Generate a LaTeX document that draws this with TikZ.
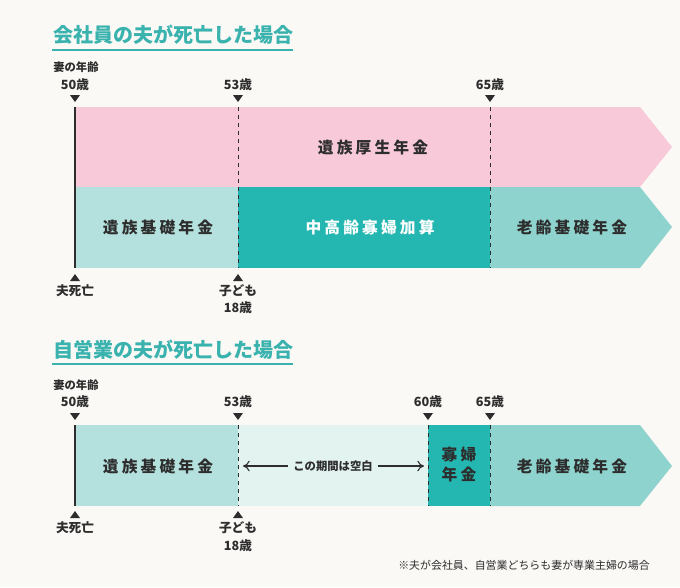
\documentclass[tikz,border=0pt]{standalone}
\usepackage{fontspec}
\setmainfont{Noto Sans CJK JP}
\usetikzlibrary{arrows.meta}

\definecolor{bgcol}{RGB}{251,249,246}
\definecolor{titleteal}{RGB}{58,178,174}
\definecolor{pinkband}{RGB}{247,201,217}
\definecolor{lightteal}{RGB}{180,225,221}
\definecolor{strongteal}{RGB}{36,183,177}
\definecolor{midteal}{RGB}{143,211,206}
\definecolor{paleteal}{RGB}{226,243,240}
\definecolor{textdark}{RGB}{45,45,45}

\begin{document}
\begin{tikzpicture}[x = 0.75pt, y = -0.75pt,
                    title/.style = {anchor = west, inner sep = 0, text = titleteal,
                                    font = \fontsize{15}{17}\selectfont\bfseries},
                    age/.style = {inner sep = 0, text = textdark,
                                  font = \fontsize{9.5}{12}\selectfont\bfseries},
                    small/.style = {inner sep = 0, text = textdark,
                                    font = \fontsize{8.5}{10}\selectfont\bfseries},
                    band/.style = {inner sep = 0, text = textdark, align = center,
                                   font = \fontsize{11.8}{15}\selectfont\bfseries\addfontfeature{LetterSpace=20}},
                    dashline/.style = {dashed, line width = 0.7pt, draw = textdark},
                    solidline/.style = {line width = 1.2pt, draw = textdark}]
      \fill [bgcol] (0, 0) rectangle (680, 587);
      \useasboundingbox (0, 0) rectangle (680, 587);

      % 会社員
      \node [title] (t1) at (53, 35){会社員の夫が死亡した場合};
      \draw [titleteal, line width = 1.2pt] (52, 50) -- (293, 50);
      \fill [pinkband] (75, 107) -- (640, 107) -- (672, 147) -- (640, 187) -- (75, 187) -- cycle;
      \fill [lightteal] (75, 187) rectangle (238, 268);
      \fill [strongteal] (238, 187) rectangle (490, 268);
      \fill [midteal] (490, 187) -- (640, 187) -- (672, 227) -- (640, 268) -- (490, 268) -- cycle;
      \draw [solidline] (75, 107) -- (75, 268);
      \draw [dashline] (238, 107) -- (238, 268);
      \draw [dashline] (490, 107) -- (490, 268);
      \node [small, anchor = west] (w1) at (53, 67){妻の年齢};
      \node [age] (a50) at (75, 85){50歳};
      \node [age] (a53) at (238, 85){53歳};
      \node [age] (a65) at (490, 85){65歳};
      \foreach \x in {75, 238, 490}
        \fill [textdark] (\x - 5, 95) -- (\x + 5, 95) -- (\x, 102) -- cycle;
      \foreach \x in {75, 238}
        \fill [textdark] (\x - 5, 281) -- (\x + 5, 281) -- (\x, 274) -- cycle;
      \node [band] (kousei) at (373, 147){遺族厚生年金};
      \node [band] (kiso1) at (158, 227){遺族基礎年金};
      \node [band, text = white] (kafu1) at (370, 227){中高齢寡婦加算};
      \node [band] (rourei1) at (572, 227){老齢基礎年金};
      \node [age] (shibou1) at (75, 291){夫死亡};
      \node [age] (ko1) at (238, 291){子ども};
      \node [age] (ko18a) at (238, 308){18歳};

      % 自営業
      \node [title] (t2) at (53, 350){自営業の夫が死亡した場合};
      \draw [titleteal, line width = 1.2pt] (52, 364) -- (293, 364);
      \fill [lightteal] (75, 425) rectangle (238, 506);
      \fill [paleteal] (238, 425) rectangle (428, 506);
      \fill [strongteal] (428, 425) rectangle (490, 506);
      \fill [midteal] (490, 425) -- (640, 425) -- (672, 466) -- (640, 506) -- (490, 506) -- cycle;
      \draw [solidline] (75, 425) -- (75, 506);
      \draw [dashline] (238, 425) -- (238, 506);
      \draw [dashline] (428, 425) -- (428, 506);
      \draw [dashline] (490, 425) -- (490, 506);
      \node [small, anchor = west] (w2) at (53, 385){妻の年齢};
      \node [age] (b50) at (75, 402){50歳};
      \node [age] (b53) at (238, 402){53歳};
      \node [age] (b60) at (428, 402){60歳};
      \node [age] (b65) at (490, 402){65歳};
      \foreach \x in {75, 238, 428, 490}
        \fill [textdark] (\x - 5, 413) -- (\x + 5, 413) -- (\x, 420) -- cycle;
      \foreach \x in {75, 238}
        \fill [textdark] (\x - 5, 518) -- (\x + 5, 518) -- (\x, 511) -- cycle;
      \node [band] (kiso2) at (158, 466){遺族基礎年金};
      \node [small, inner sep = 4pt] (kuhaku) at (333, 466){この期間は空白};
      \coordinate (l) at (243, 466);
      \coordinate (r) at (424, 466);
      \draw [textdark, line width = 0.8pt, -{To[length = 5pt, width = 8pt]}] (kuhaku.west) -- (l);
      \draw [textdark, line width = 0.8pt, -{To[length = 5pt, width = 8pt]}] (kuhaku.east) -- (r);
      \node [band] (kafu2) at (459, 465){寡婦\\年金};
      \node [band] (rourei2) at (572, 466){老齢基礎年金};
      \node [age] (shibou2) at (75, 528){夫死亡};
      \node [age] (ko2) at (238, 528){子ども};
      \node [age] (ko18b) at (238, 546){18歳};
      \node [small, anchor = east, font = \fontsize{8.2}{10}\selectfont] (note) at (650, 565){※夫が会社員、自営業どちらも妻が専業主婦の場合};
    \end{tikzpicture}
\end{document}
